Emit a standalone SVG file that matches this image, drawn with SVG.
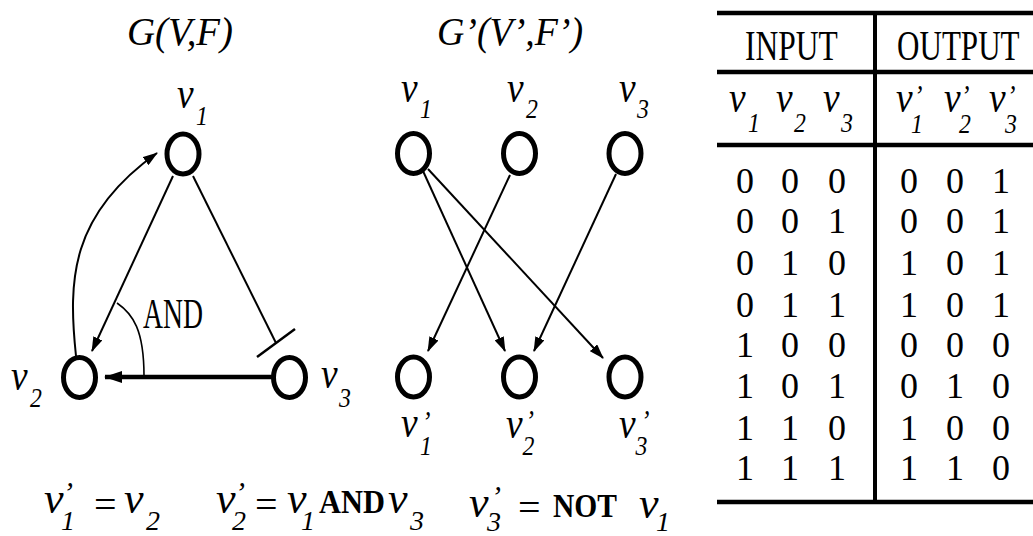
<svg xmlns="http://www.w3.org/2000/svg" width="1033" height="536" viewBox="0 0 1033 536">
<style>
.n{fill:none;stroke:#000;stroke-width:5}
.e{fill:none;stroke:#000;stroke-width:2}
.ek{fill:none;stroke:#000;stroke-width:4.5}
.eb{fill:none;stroke:#000;stroke-width:2.5}
.ea{fill:none;stroke:#000;stroke-width:1.6}
.lb{font-family:"Liberation Serif",serif;font-style:italic;font-size:44px;fill:#000}
.s{font-size:28px}
.p{font-size:30px}
.t{font-family:"Liberation Serif",serif;font-style:italic;font-size:40px;fill:#000}
.r{font-family:"Liberation Serif",serif;font-size:36px;fill:#000}
.h{font-family:"Liberation Serif",serif;font-size:42px;fill:#000}
.b{font-style:normal;font-weight:bold;font-size:33px}
.q{font-style:normal;font-size:40px}
.tl{stroke:#000;stroke-width:4.5}
</style>
<defs>
<marker id="ar" markerUnits="userSpaceOnUse" markerWidth="15" markerHeight="10" refX="14" refY="5" orient="auto"><path d="M0,0 L15,5 L0,10 z" fill="#000"/></marker>
<marker id="ar2" markerUnits="userSpaceOnUse" markerWidth="18" markerHeight="12" refX="17" refY="6" orient="auto"><path d="M0,0 L18,6 L0,12 z" fill="#000"/></marker>
</defs>
<rect width="1033" height="536" fill="#fff"/>

<!-- titles -->
<text class="t" x="127" y="45" textLength="106" lengthAdjust="spacingAndGlyphs">G(V,F)</text>
<text class="t" x="437" y="45" textLength="146" lengthAdjust="spacingAndGlyphs">G’(V’,F’)</text>

<!-- connectors -->
<g id="connectors">
<line class="e" x1="173" y1="176" x2="92" y2="351" marker-end="url(#ar)"/>
<line class="e" x1="193" y1="176" x2="276" y2="343"/>
<line class="eb" x1="257" y1="357" x2="295" y2="329"/>
<line class="ek" x1="272" y1="377" x2="105" y2="377" marker-end="url(#ar2)"/>
<path class="e" d="M76,356 C68,280 70,215 157,153" marker-end="url(#ar)"/>
<path class="ea" d="M117,303 C133,314 144,330 144,376"/>
<line class="e" x1="423" y1="171" x2="505" y2="351" marker-end="url(#ar)"/>
<line class="e" x1="428" y1="169" x2="603" y2="358" marker-end="url(#ar)"/>
<line class="e" x1="510" y1="175" x2="428" y2="351" marker-end="url(#ar)"/>
<line class="e" x1="616" y1="174" x2="534" y2="351" marker-end="url(#ar)"/>
</g>
<text class="h" x="143" y="328" font-size="32" textLength="60" lengthAdjust="spacingAndGlyphs">AND</text>

<!-- left graph nodes -->
<g id="g1-v1">
<ellipse class="n" cx="183" cy="154" rx="16" ry="20"/>
<text class="lb" transform="translate(177,108) scale(.85,1)">v<tspan class="s" x="22.4" y="17">1</tspan></text>
</g>
<g id="g1-v2">
<ellipse class="n" cx="79.5" cy="377.5" rx="16" ry="20"/>
<text class="lb" transform="translate(11,390) scale(.85,1)">v<tspan class="s" x="22.4" y="17">2</tspan></text>
</g>
<g id="g1-v3">
<ellipse class="n" cx="289.5" cy="377.5" rx="16" ry="20"/>
<text class="lb" transform="translate(321,388) scale(.85,1)">v<tspan class="s" x="21.2" y="19">3</tspan></text>
</g>

<!-- right graph nodes -->
<g id="g2-v1">
<ellipse class="n" cx="413.5" cy="153.5" rx="16" ry="20"/>
<text class="lb" transform="translate(401,102) scale(.85,1)">v<tspan class="s" x="22.4" y="16">1</tspan></text>
</g>
<g id="g2-v2">
<ellipse class="n" cx="519.5" cy="153.5" rx="16" ry="20"/>
<text class="lb" transform="translate(507,102) scale(.85,1)">v<tspan class="s" x="22.4" y="16">2</tspan></text>
</g>
<g id="g2-v3">
<ellipse class="n" cx="625" cy="153.5" rx="16" ry="20"/>
<text class="lb" transform="translate(619,102) scale(.85,1)">v<tspan class="s" x="21.2" y="16">3</tspan></text>
</g>
<g id="g2-v1p">
<ellipse class="n" cx="413.5" cy="377" rx="16" ry="20"/>
<text class="lb" transform="translate(401,437) scale(.85,1)">v<tspan class="p" x="24.7" y="-6">’</tspan><tspan class="s" x="22.4" y="18">1</tspan></text>
</g>
<g id="g2-v2p">
<ellipse class="n" cx="519.5" cy="377" rx="16" ry="20"/>
<text class="lb" transform="translate(506,438) scale(.85,1)">v<tspan class="p" x="23" y="-8">’</tspan><tspan class="s" x="19.5" y="17">2</tspan></text>
</g>
<g id="g2-v3p">
<ellipse class="n" cx="625" cy="377" rx="16" ry="20"/>
<text class="lb" transform="translate(619,438) scale(.85,1)">v<tspan class="p" x="25.9" y="-8">’</tspan><tspan class="s" x="19.5" y="17">3</tspan></text>
</g>

<!-- equations -->
<g id="equations">
<text class="lb"><tspan x="44" y="513">v</tspan><tspan class="p" x="63" y="502">’</tspan><tspan class="s" x="61" y="530">1</tspan><tspan class="q" x="94" y="518">=</tspan><tspan x="124" y="513">v</tspan><tspan class="s" x="146" y="530">2</tspan><tspan x="216" y="513">v</tspan><tspan class="p" x="235" y="502">’</tspan><tspan class="s" x="232" y="530">2</tspan><tspan class="q" x="255" y="518">=</tspan><tspan x="287" y="513">v</tspan><tspan class="s" x="301" y="530">1</tspan><tspan class="b" x="319" y="513" textLength="66" lengthAdjust="spacingAndGlyphs">AND</tspan><tspan x="388" y="513">v</tspan><tspan class="s" x="410" y="530">3</tspan><tspan x="469" y="517">v</tspan><tspan class="p" x="491" y="506">’</tspan><tspan class="s" x="487" y="531">3</tspan><tspan class="q" x="518" y="521">=</tspan><tspan class="b" x="553" y="517" textLength="64" lengthAdjust="spacingAndGlyphs">NOT</tspan><tspan x="639" y="518">v</tspan><tspan class="s" x="656" y="531">1</tspan></text>
</g>

<!-- truth table -->
<g id="table">
<line class="tl" x1="717" y1="13" x2="1033" y2="13"/>
<line class="tl" x1="717" y1="72" x2="1033" y2="72"/>
<line class="tl" x1="717" y1="145" x2="1033" y2="145"/>
<line class="tl" x1="717" y1="502" x2="1033" y2="502"/>
<line class="tl" x1="875" y1="11" x2="875" y2="504" style="stroke-width:4"/>
<text class="h" transform="translate(745,60) scale(.75,1)">INPUT</text>
<text class="h" transform="translate(897,60) scale(.74,1)">OUTPUT</text>
<text class="lb" transform="translate(729,112) scale(.85,1)">v<tspan class="s" x="22.4" y="20">1</tspan></text>
<text class="lb" transform="translate(776,112) scale(.85,1)">v<tspan class="s" x="21.2" y="20">2</tspan></text>
<text class="lb" transform="translate(823,112) scale(.85,1)">v<tspan class="s" x="21.2" y="20">3</tspan></text>
<text class="lb" transform="translate(896,112) scale(.85,1)">v<tspan class="p" x="21.2" y="-7">’</tspan><tspan class="s" x="17.6" y="21">1</tspan></text>
<text class="lb" transform="translate(944,112) scale(.85,1)">v<tspan class="p" x="20" y="-7">’</tspan><tspan class="s" x="17.6" y="21">2</tspan></text>
<text class="lb" transform="translate(989,112) scale(.85,1)">v<tspan class="p" x="21.2" y="-7">’</tspan><tspan class="s" x="18.8" y="21">3</tspan></text>
<g class="r" text-anchor="middle">
<text x="745" y="193">0</text><text x="790" y="193">0</text><text x="837" y="193">0</text>
<text x="909" y="193">0</text><text x="955" y="193">0</text><text x="1001" y="193">1</text>
<text x="745" y="233">0</text><text x="790" y="233">0</text><text x="837" y="233">1</text>
<text x="909" y="233">0</text><text x="955" y="233">0</text><text x="1001" y="233">1</text>
<text x="745" y="275">0</text><text x="790" y="275">1</text><text x="837" y="275">0</text>
<text x="909" y="275">1</text><text x="955" y="275">0</text><text x="1001" y="275">1</text>
<text x="745" y="317">0</text><text x="790" y="317">1</text><text x="837" y="317">1</text>
<text x="909" y="317">1</text><text x="955" y="317">0</text><text x="1001" y="317">1</text>
<text x="745" y="357">1</text><text x="790" y="357">0</text><text x="837" y="357">0</text>
<text x="909" y="357">0</text><text x="955" y="357">0</text><text x="1001" y="357">0</text>
<text x="745" y="398">1</text><text x="790" y="398">0</text><text x="837" y="398">1</text>
<text x="909" y="398">0</text><text x="955" y="398">1</text><text x="1001" y="398">0</text>
<text x="745" y="440">1</text><text x="790" y="440">1</text><text x="837" y="440">0</text>
<text x="909" y="440">1</text><text x="955" y="440">0</text><text x="1001" y="440">0</text>
<text x="745" y="480">1</text><text x="790" y="480">1</text><text x="837" y="480">1</text>
<text x="909" y="480">1</text><text x="955" y="480">1</text><text x="1001" y="480">0</text>
</g>
</g>
</svg>
